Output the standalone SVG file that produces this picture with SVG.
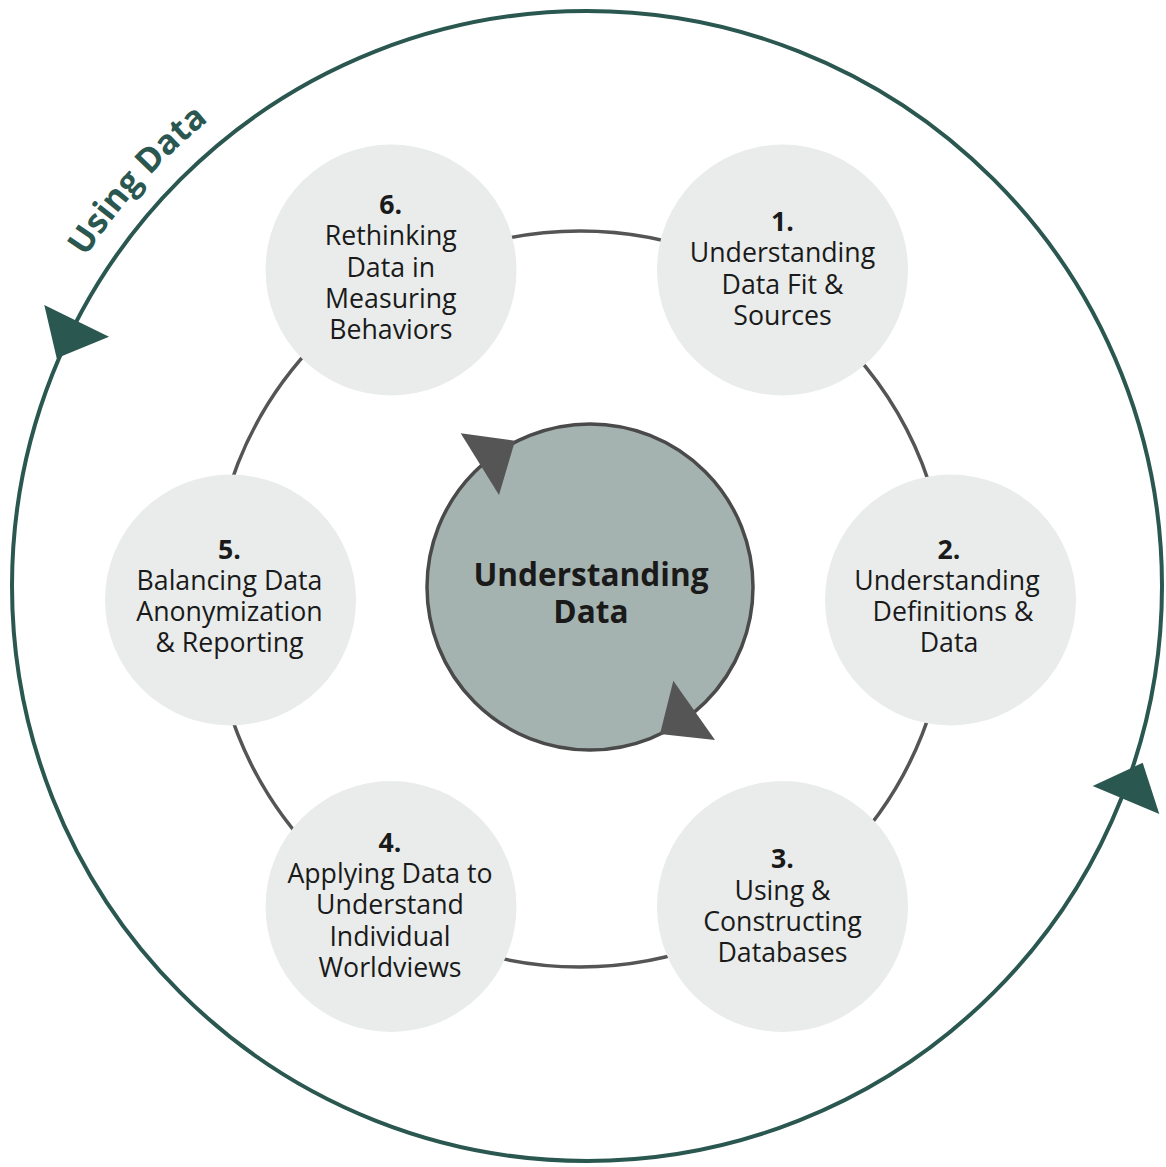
<svg xmlns="http://www.w3.org/2000/svg" width="1166" height="1167" viewBox="0 0 1166 1167">
<style>
.node circle{fill:#e9eceb}
.lbl{font-family:"Open Sans","Noto Sans","Liberation Sans",sans-serif;font-size:26.7px;fill:#1a1a1a;text-anchor:middle}
.num{font-weight:bold}
.ring{fill:none;stroke:#555555;stroke-width:3.5}
.outer{fill:none;stroke:#2a5750;stroke-width:4}
.tealhead{fill:#2a5750}
.greyhead{fill:#555555}
</style>
<defs>
<path id="usingArc" d="M78.7 268 A600 600 0 0 1 381.8 22"/>
</defs>
<rect width="1166" height="1167" fill="#ffffff"/>
<g id="connectors">
<circle class="outer" cx="587" cy="586" r="575"/>
<polygon class="tealhead" points="44.3,305 109,336.7 56.7,358.3"/>
<polygon class="tealhead" points="1092.7,786 1142.7,762.7 1159.3,814"/>
<circle class="ring" cx="580" cy="599" r="368"/>
</g>
<g id="label-using-data">
<text font-family="'Open Sans','Noto Sans','Liberation Sans',sans-serif" font-size="34" font-weight="bold" fill="#2a5750"><textPath href="#usingArc" startOffset="13">Using Data</textPath></text>
</g>
<g id="center">
<circle cx="590" cy="587" r="163" fill="#a5b3b0" stroke="#4a4a4a" stroke-width="3.5"/>
<polygon class="greyhead" points="460.7,433.3 515,440.7 499,495"/>
<polygon class="greyhead" points="673.3,680.7 715,740 660,734"/>
<text class="lbl num" x="591" y="586" style="font-size:31.6px">Understanding</text>
<text class="lbl num" x="591" y="623" style="font-size:31.6px">Data</text>
</g>
<g id="node1" class="node">
<circle cx="782.5" cy="270" r="125.5"/>
<text class="lbl" x="782.5"><tspan class="num" x="782.5" y="231">1.</tspan><tspan x="782.5" y="262.3">Understanding</tspan><tspan x="782.5" y="293.6">Data Fit &amp;</tspan><tspan x="782.5" y="324.9">Sources</tspan></text>
</g>
<g id="node2" class="node">
<circle cx="950.5" cy="600" r="125.5"/>
<text class="lbl" x="949"><tspan class="num" x="949" y="558.5">2.</tspan><tspan x="947" y="589.8">Understanding</tspan><tspan x="953" y="621.1">Definitions &amp;</tspan><tspan x="949" y="652.4">Data</tspan></text>
</g>
<g id="node3" class="node">
<circle cx="782.5" cy="906.5" r="125.5"/>
<text class="lbl" x="782.5"><tspan class="num" x="782.5" y="868.3">3.</tspan><tspan x="782.5" y="899.6">Using &amp;</tspan><tspan x="782.5" y="930.9">Constructing</tspan><tspan x="782.5" y="962.2">Databases</tspan></text>
</g>
<g id="node4" class="node">
<circle cx="391" cy="906.5" r="125.5"/>
<text class="lbl" x="390"><tspan class="num" x="390" y="851.7">4.</tspan><tspan x="390" y="883">Applying Data to</tspan><tspan x="390" y="914.3">Understand</tspan><tspan x="390" y="945.6">Individual</tspan><tspan x="390" y="976.9">Worldviews</tspan></text>
</g>
<g id="node5" class="node">
<circle cx="230.5" cy="600" r="125.5"/>
<text class="lbl" x="229.5"><tspan class="num" x="229.5" y="558.5">5.</tspan><tspan x="229.5" y="589.8">Balancing Data</tspan><tspan x="229.5" y="621.1">Anonymization</tspan><tspan x="229.5" y="652.4">&amp; Reporting</tspan></text>
</g>
<g id="node6" class="node">
<circle cx="391" cy="270" r="125.5"/>
<text class="lbl" x="390.8"><tspan class="num" x="390.8" y="214">6.</tspan><tspan x="390.8" y="245.3">Rethinking</tspan><tspan x="390.8" y="276.6">Data in</tspan><tspan x="390.8" y="307.9">Measuring</tspan><tspan x="390.8" y="339.2">Behaviors</tspan></text>
</g>
</svg>
